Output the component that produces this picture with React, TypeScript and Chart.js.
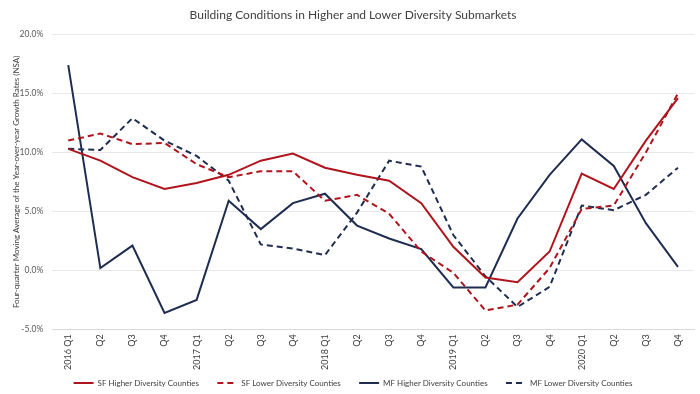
import React, { useEffect, useRef } from "react";
import { Chart, registerables } from "chart.js";

Chart.register(...registerables);

const categories = [
  "2016 Q1", "Q2", "Q3", "Q4",
  "2017 Q1", "Q2", "Q3", "Q4",
  "2018 Q1", "Q2", "Q3", "Q4",
  "2019 Q1", "Q2", "Q3", "Q4",
  "2020 Q1", "Q2", "Q3", "Q4",
];

const sfHigher = [10.3, 9.3, 7.9, 6.9, 7.4, 8.1, 9.3, 9.9, 8.7, 8.1, 7.6, 5.7, 2.0, -0.6, -1.0, 1.6, 8.2, 6.9, 11.0, 14.6];
const sfLower = [11.0, 11.6, 10.7, 10.8, 9.0, 7.9, 8.4, 8.4, 5.9, 6.4, 4.8, 1.6, -0.2, -3.4, -2.9, 0.2, 5.2, 5.5, 10.0, 15.0];
const mfHigher = [17.4, 0.2, 2.1, -3.6, -2.5, 5.9, 3.5, 5.7, 6.5, 3.8, 2.7, 1.8, -1.45, -1.45, 4.4, 8.1, 11.1, 8.85, 4.0, 0.3];
const mfLower = [10.3, 10.2, 12.9, 11.0, 9.7, 7.6, 2.2, 1.85, 1.3, 4.9, 9.3, 8.8, 3.0, -0.5, -3.1, -1.4, 5.5, 5.1, 6.4, 8.7];

const seriesNames = [
  "SF Higher Diversity Counties",
  "SF Lower Diversity Counties",
  "MF Higher Diversity Counties",
  "MF Lower Diversity Counties",
];

const RED = "#b0141c";
const NAVY = "#1f2d50";
const FONT = "Lato, 'Open Sans', sans-serif";
const LEGEND_GAP = "       ";

export default function App() {
  const ref = useRef<HTMLCanvasElement | null>(null);

  useEffect(() => {
    if (!ref.current) return;
    const mk = (label: string, data: number[], color: string, dashed: boolean) => ({
      label,
      data,
      borderColor: color,
      backgroundColor: color,
      borderWidth: 2,
      borderDash: dashed ? [6, 4] : [],
      pointRadius: 0,
      pointHoverRadius: 0,
      tension: 0,
      fill: false,
    });
    const chart = new Chart(ref.current, {
      type: "line",
      data: {
        labels: categories,
        datasets: [
          mk(seriesNames[0], sfHigher, RED, false),
          mk(seriesNames[1], sfLower, RED, true),
          mk(seriesNames[2], mfHigher, NAVY, false),
          mk(seriesNames[3], mfLower, NAVY, true),
        ],
      },
      options: {
        animation: false,
        responsive: false,
        maintainAspectRatio: false,
        layout: { padding: { top: 8, left: 12, right: 6, bottom: -3 } },
        plugins: {
          title: {
            display: true,
            text: "Building Conditions in Higher and Lower Diversity Submarkets",
            color: "#404040",
            font: { family: FONT, size: 12, weight: "normal" },
            padding: { top: 0, bottom: 12 },
          },
          legend: {
            position: "bottom",
            labels: {
              usePointStyle: true,
              pointStyle: "line",
              pointStyleWidth: 20,
              boxHeight: 8,
              color: "#404040",
              font: { family: FONT, size: 8 },
              padding: 4,
              generateLabels: (c: any) =>
                Chart.defaults.plugins.legend.labels
                  .generateLabels(c)
                  .map((l: any, i: number, arr: any[]) => ({
                    ...l,
                    text: i < arr.length - 1 ? l.text + LEGEND_GAP : l.text,
                    lineDash: c.data.datasets[i].borderDash,
                    lineWidth: 2,
                  })),
            },
          },
          tooltip: { enabled: false },
        },
        scales: {
          x: {
            offset: true,
            grid: { display: false, drawTicks: false },
            border: { display: true, color: "#d9d9d9" },
            ticks: {
              minRotation: 90,
              maxRotation: 90,
              autoSkip: false,
              padding: 5,
              color: "#404040",
              font: { family: FONT, size: 9 },
            },
          },
          y: {
            min: -5,
            max: 20,
            grid: { color: "#e8e8e8", drawTicks: false },
            border: { display: false },
            ticks: {
              stepSize: 5,
              padding: 9,
              color: "#595959",
              font: { family: FONT, size: 8.5 },
              callback: (v: any) => Number(v).toFixed(1) + "%",
            },
            title: {
              display: true,
              text: "Four-quarter Moving Average of the Year-over-year Growth Rates (NSA)",
              color: "#404040",
              font: { family: FONT, size: 8 },
              padding: { top: 0, bottom: -11 },
            },
          },
        },
      },
    });
    return () => chart.destroy();
  }, []);

  return (
    <div style={{ position: "fixed", left: 0, top: 0, width: 700, height: 394, background: "#fff" }}>
      <canvas ref={ref} width={700} height={394} />
    </div>
  );
}
